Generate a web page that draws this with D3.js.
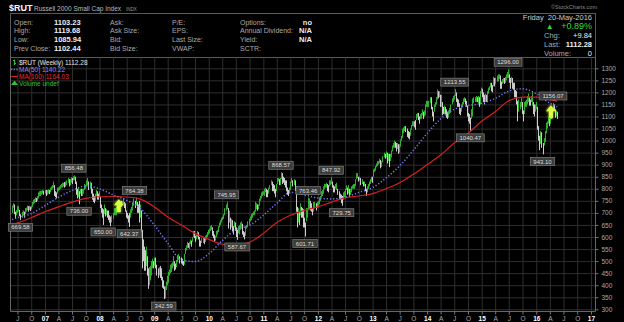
<!DOCTYPE html>
<html>
<head>
<meta charset="utf-8">
<script src="https://cdn.jsdelivr.net/npm/d3@7"></script>
<style>
  html, body { margin: 0; padding: 0; background: #000; }
  svg { display: block; }
  text { font-family: "Liberation Sans", Arial, sans-serif; }
</style>
</head>
<body>
<svg></svg>
<script>
let width = 624,
    height = 322;

// weekly [low, high] bars, one array per year (first Friday given in yearStarts)
const rut2006 = [[700,730],[722,740],[695,735],[675,705],[690,712],[700,728],[705,728],[686,712],[670,694],[680,705],[688,710],[680,705],[695,720],[705,722],[712,730],[705,728],[712,730],[708,726],[715,730],[725,745],[735,755],[740,758],[745,765],[745,762],[750,770],[760,785],[770,790],[770,792],[775,792],[780,795],[775,792],[780,795]];
const rut2007 = [[770,795],[775,795],[780,798],[778,795],[785,805],[795,810],[800,815],[805,830],[770,815],[765,790],[760,785],[780,805],[790,805],[795,810],[800,815],[805,820],[805,825],[810,825],[805,828],[808,830],[815,835],[825,845],[810,840],[815,840],[825,848],[820,845],[835,852],[835,856],[820,850],[775,830],[760,800],[765,805],[736,790],[780,800],[770,800],[770,800],[780,800],[795,820],[800,815],[810,835],[815,845],[795,830],[800,830],[780,825],[755,800],[745,780],[740,770],[750,780],[770,795],[755,790],[755,780],[765,790]];
const rut2008 = [[720,766],[700,735],[680,720],[650,715],[695,735],[685,720],[690,715],[680,710],[670,710],[660,690],[645,685],[660,690],[675,700],[690,720],[690,720],[690,725],[710,730],[710,740],[715,740],[730,750],[725,750],[730,750],[735,762],[720,745],[705,740],[680,710],[675,700],[660,690],[642,700],[680,715],[700,725],[710,740],[730,760],[720,750],[730,764],[700,745],[700,735],[660,750],[680,735],[620,710],[470,630],[500,590],[460,560],[460,545],[480,560],[440,520],[385,470],[400,475],[420,480],[440,500],[470,510],[470,500]];
const rut2009 = [[480,515],[470,515],[440,485],[430,470],[440,475],[430,480],[420,470],[390,435],[385,420],[343,395],[345,395],[380,415],[400,440],[410,455],[440,465],[450,485],[455,490],[470,495],[480,520],[460,500],[465,490],[475,505],[495,525],[505,530],[490,520],[490,515],[485,510],[480,500],[485,530],[530,555],[545,565],[555,580],[555,575],[550,580],[570,590],[560,585],[580,600],[600,625],[595,625],[580,605],[590,610],[600,625],[590,620],[560,600],[560,585],[575,595],[575,600],[570,595],[580,605],[590,610],[600,620],[610,630]];
const rut2010 = [[615,635],[625,645],[630,650],[605,640],[595,625],[580,610],[585,605],[600,625],[610,630],[620,645],[640,660],[650,670],[660,680],[670,685],[675,695],[690,720],[710,735],[715,746],[635,720],[660,710],[630,680],[640,675],[625,670],[610,645],[640,665],[625,660],[600,640],[588,630],[615,645],[610,650],[630,660],[640,665],[610,655],[600,625],[590,620],[605,645],[635,650],[645,665],[650,675],[665,685],[670,695],[680,700],[690,705],[690,710],[705,745],[715,740],[710,735],[715,735],[730,760],[750,770],[760,785],[770,790],[775,790]];
const rut2011 = [[770,800],[785,805],[765,800],[765,795],[780,805],[800,815],[815,835],[790,830],[790,820],[780,815],[765,800],[790,820],[820,845],[830,845],[815,840],[815,845],[840,869],[820,865],[825,850],[815,845],[805,835],[790,835],[775,805],[770,795],[780,805],[795,830],[825,845],[810,835],[815,840],[790,835],[705,800],[640,725],[660,720],[650,705],[690,740],[680,725],[680,720],[640,715],[640,680],[602,660],[665,720],[680,720],[710,763],[715,760],[710,750],[705,740],[690,720],[705,745],[720,745],[710,740],[720,745],[730,750]];
const rut2012 = [[735,765],[750,770],[765,790],[770,795],[780,810],[800,820],[805,820],[805,825],[790,820],[785,815],[810,835],[815,835],[820,848],[805,830],[785,815],[785,810],[800,820],[795,825],[775,800],[755,790],[755,780],[740,775],[730,770],[755,785],[765,790],[760,800],[795,815],[775,805],[780,815],[765,800],[775,800],[785,810],[800,815],[800,820],[800,820],[810,840],[840,865],[845,865],[830,850],[835,850],[815,845],[820,840],[810,830],[810,830],[790,820],[770,800],[785,810],[800,820],[810,830],[820,840],[830,850],[825,850]];
const rut2013 = [[850,880],[870,885],[875,895],[890,905],[895,915],[900,915],[905,925],[885,920],[890,915],[910,935],[930,950],[925,945],[930,955],[905,950],[915,945],[890,945],[915,945],[930,960],[955,980],[970,990],[970,1000],[970,995],[955,990],[965,990],[945,985],[950,985],[975,1005],[1000,1020],[1010,1050],[1030,1055],[1040,1060],[1035,1060],[1015,1050],[1010,1040],[1005,1035],[1020,1050],[1045,1065],[1060,1080],[1060,1080],[1055,1080],[1045,1085],[1085,1110],[1095,1115],[1085,1115],[1070,1100],[1090,1110],[1090,1115],[1105,1130],[1090,1120],[1100,1125],[1105,1150],[1140,1165]];
const rut2014 = [[1140,1165],[1140,1165],[1155,1180],[1130,1180],[1100,1140],[1080,1120],[1120,1150],[1140,1160],[1150,1180],[1170,1212],[1175,1205],[1180,1205],[1140,1190],[1140,1190],[1105,1160],[1110,1140],[1110,1145],[1110,1140],[1095,1130],[1090,1120],[1095,1125],[1110,1135],[1115,1150],[1150,1175],[1160,1185],[1170,1190],[1185,1214],[1160,1200],[1140,1175],[1140,1170],[1110,1155],[1105,1135],[1120,1150],[1140,1160],[1150,1175],[1160,1180],[1150,1175],[1140,1165],[1100,1145],[1080,1115],[1070,1110],[1040,1095],[1090,1130],[1100,1175],[1155,1180],[1160,1180],[1160,1185],[1160,1180],[1155,1185],[1140,1180],[1150,1205],[1195,1220]];
const rut2015 = [[1180,1215],[1160,1200],[1150,1190],[1160,1195],[1160,1190],[1165,1205],[1195,1220],[1210,1225],[1220,1240],[1205,1240],[1200,1230],[1225,1265],[1225,1260],[1235,1260],[1245,1270],[1245,1275],[1255,1275],[1215,1270],[1215,1245],[1235,1255],[1240,1260],[1235,1260],[1240,1265],[1250,1275],[1260,1285],[1260,1296],[1240,1275],[1215,1260],[1240,1265],[1215,1260],[1210,1240],[1180,1240],[1180,1210],[1150,1205],[1080,1165],[1120,1170],[1130,1160],[1140,1180],[1110,1160],[1080,1125],[1110,1160],[1140,1165],[1140,1170],[1150,1185],[1160,1195],[1145,1180],[1145,1170],[1160,1185],[1145,1200],[1110,1160],[1100,1150],[1120,1150]];
const rut2016 = [[1130,1160],[1045,1140],[1000,1060],[960,1020],[985,1040],[970,1035],[943,990],[980,1010],[995,1040],[1030,1075],[1050,1080],[1070,1100],[1060,1090],[1070,1120],[1090,1120],[1105,1130],[1125,1156],[1125,1150],[1095,1130],[1100,1125],[1090,1120]];

const yearStarts = ["2006-05-26","2007-01-05","2008-01-04","2009-01-02","2010-01-01","2011-01-07","2012-01-06","2013-01-04","2014-01-03","2015-01-02","2016-01-01"];
const yearBars = [rut2006, rut2007, rut2008, rut2009, rut2010, rut2011, rut2012, rut2013, rut2014, rut2015, rut2016];

// moving averages (quarterly samples)
const maDates = ["2006-05-26","2006-07-01","2006-10-01","2007-01-01","2007-04-01","2007-07-01","2007-10-01","2008-01-01","2008-04-01","2008-07-01","2008-10-01","2009-01-01","2009-04-01","2009-07-01","2009-10-01","2010-01-01","2010-04-01","2010-07-01","2010-10-01","2011-01-01","2011-04-01","2011-07-01","2011-10-01","2012-01-01","2012-04-01","2012-07-01","2012-10-01","2013-01-01","2013-04-01","2013-07-01","2013-10-01","2014-01-01","2014-04-01","2014-07-01","2014-10-01","2015-01-01","2015-04-01","2015-07-01","2015-10-01","2016-01-01","2016-04-01","2016-05-20"];
const ma50 = [672,680,697,730,765,793,812,800,775,752,718,650,575,505,498,530,585,630,648,690,740,785,775,762,758,765,785,805,845,895,960,1030,1090,1130,1145,1155,1175,1205,1215,1195,1155,1140];
const ma100 = [650,658,680,705,725,745,760,767,768,766,757,725,683,650,615,590,570,566,578,615,660,690,710,725,745,762,770,780,800,825,860,900,940,990,1030,1080,1120,1165,1180,1180,1170,1164];

// price labels on the chart
const labelTexts = ["669.58","856.48","736.00","650.00","642.37","764.38","342.59","745.95","587.67","868.57","601.71","763.46","847.92","729.75","1213.55","1040.47","1296.00","943.10","1156.07"];
const labelDates = ["2006-07-21","2007-07-13","2007-08-17","2008-01-25","2008-07-18","2008-08-22","2009-03-06","2010-04-30","2010-07-09","2011-04-29","2011-10-07","2011-10-28","2012-03-30","2012-06-08","2014-07-04","2014-10-17","2015-06-26","2016-02-12","2016-04-22"];
const labelSides = ["below","above","below","below","below","above","below","above","below","above","below","above","above","below","above","below","above","below","above"];

// highlight arrows drawn on the chart
const arrowDates = ["2008-05-09","2016-04-08"];
const arrowValues = [728,1118];

const yTicks = d3.range(300, 1301, 50);
const monthLetters = {0: null, 3: "A", 6: "J", 9: "O"};

const quoteLeft = [
    ["Open:", "1103.23", "Ask:", "P/E:", "Options:", "no"],
    ["High:", "1119.68", "Ask Size:", "EPS:", "Annual Dividend:", "N/A"],
    ["Low:", "1085.94", "Bid:", "Last Size:", "Yield:", "N/A"],
    ["Prev Close:", "1102.44", "Bid Size:", "VWAP:", "SCTR:", ""]
];

let parse = d3.timeParse("%Y-%m-%d");
let svg = d3.select("svg").attr("width", width).attr("height", height);

const plot = { left: 10, right: 595, top: 57.5, bottom: 311 };

let x = d3.scaleTime()
    .domain([parse("2006-05-12"), parse("2017-01-28")])
    .range([plot.left, plot.right]);
let y = d3.scaleLinear().domain([300, 1300]).range([309.3, 68.3]);

// ---- header box
svg.append("rect")
    .attr("x", 10.5).attr("y", 13.5)
    .attr("width", 585).attr("height", 44)
    .attr("fill", "none").attr("stroke", "#5a5a5a");

svg.append("text").attr("x", 9).attr("y", 11)
    .attr("fill", "#fff").attr("font-size", "9px").attr("font-weight", "bold")
    .text("$RUT");
svg.append("text").attr("x", 34).attr("y", 11)
    .attr("fill", "#bbb").attr("font-size", "6.5px")
    .text("Russell 2000 Small Cap Index");
svg.append("text").attr("x", 126).attr("y", 11)
    .attr("fill", "#999").attr("font-size", "4.5px")
    .text("INDX");
svg.append("text").attr("x", 597).attr("y", 9)
    .attr("text-anchor", "end").attr("fill", "#888").attr("font-size", "5.5px")
    .text("\u00a9StockCharts.com");

const colX = [14, 54, 110, 172, 240, 312];
quoteLeft.forEach((row, i) => {
    let yy = 24.5 + i * 8.8;
    row.forEach((t, j) => {
        let isVal = j == 1 || j == 5;
        svg.append("text")
            .attr("x", colX[j]).attr("y", yy)
            .attr("text-anchor", j == 5 ? "end" : "start")
            .attr("fill", isVal ? "#eee" : "#aaa")
            .attr("font-weight", isVal ? "bold" : "normal")
            .attr("font-size", isVal ? "7.5px" : "7px")
            .text(t);
    });
});

const rightRows = [
    ["Friday", "20-May-2016"],
    ["\u25B2", "+0.89%"],
    ["Chg:", "+9.84"],
    ["Last:", "1112.28"],
    ["Volume:", "0"]
];
rightRows.forEach((r, i) => {
    let yy = 19.5 + i * 9;
    if (i == 0) {
        svg.append("text").attr("x", 592).attr("y", yy)
            .attr("text-anchor", "end").attr("fill", "#ccc").attr("font-size", "7.5px")
            .attr("xml:space", "preserve")
            .text(r[0] + "  " + r[1]);
        return;
    }
    svg.append("text").attr("x", i == 1 ? 546 : 544).attr("y", yy)
        .attr("fill", i == 1 ? "#33dd33" : "#aaa")
        .attr("font-size", "7.5px")
        .text(r[0]);
    svg.append("text").attr("x", 592).attr("y", yy)
        .attr("text-anchor", "end")
        .attr("fill", i == 1 ? "#33dd33" : "#eee")
        .attr("font-weight", i == 3 ? "bold" : "normal")
        .attr("font-size", i == 1 ? "9px" : "7.5px")
        .text(r[1]);
});

// ---- grid
svg.append("g")
    .attr("transform", `translate(0,${plot.bottom})`)
    .call(d3.axisBottom(x).ticks(d3.timeMonth.every(3)).tickSize(-(plot.bottom - plot.top)).tickFormat(""))
    .call(g => g.select(".domain").remove())
    .call(g => g.selectAll("line").attr("stroke", "#2e2e2e"));

svg.append("g")
    .attr("transform", `translate(${plot.left},0)`)
    .call(d3.axisLeft(y).tickValues(yTicks).tickSize(-(plot.right - plot.left)).tickFormat(""))
    .call(g => g.select(".domain").remove())
    .call(g => g.selectAll("line").attr("stroke", "#2e2e2e"));

// plot frame
svg.append("path")
    .attr("d", `M${plot.left + 0.5},${plot.top}V${plot.bottom + 0.5}H${plot.right + 0.5}V${plot.top}`)
    .attr("fill", "none").attr("stroke", "#666");

// ---- axes
svg.append("g")
    .attr("transform", `translate(0,${plot.bottom + 0.5})`)
    .call(d3.axisBottom(x).ticks(d3.timeMonth.every(3)).tickSize(3).tickPadding(2)
        .tickFormat(d => d.getMonth() == 0 ? d3.timeFormat("%y")(d) : monthLetters[d.getMonth()]))
    .call(g => g.select(".domain").remove())
    .call(g => g.selectAll("line").attr("stroke", "#777"))
    .call(g => g.selectAll("text")
        .attr("font-family", "Liberation Sans, Arial, sans-serif")
        .attr("font-size", "6.5px")
        .attr("fill", d => d.getMonth() == 0 ? "#fff" : "#aaa")
        .attr("font-weight", d => d.getMonth() == 0 ? "bold" : "normal"));

svg.append("g")
    .attr("transform", `translate(${plot.right + 0.5},0)`)
    .call(d3.axisRight(y).tickValues(yTicks).tickSize(3).tickPadding(3).tickFormat(d3.format("d")))
    .call(g => g.select(".domain").remove())
    .call(g => g.selectAll("line").attr("stroke", "#777"))
    .call(g => g.selectAll("text")
        .attr("font-family", "Liberation Sans, Arial, sans-serif")
        .attr("font-size", "6.5px")
        .attr("fill", "#aaa"));

// ---- bars
let bars = [];
yearBars.forEach((arr, k) => {
    let d0 = parse(yearStarts[k]);
    arr.forEach((p, i) => {
        bars.push({ date: d3.timeDay.offset(d0, 7 * i), lo: p[0], hi: p[1] });
    });
});
bars.forEach((b, i) => {
    let prev = i > 0 ? bars[i - 1] : b;
    b.up = (b.lo + b.hi) >= (prev.lo + prev.hi);
});

svg.append("g")
    .selectAll("line")
    .data(bars)
    .enter()
    .append("line")
    .attr("x1", d => Math.round(x(d.date)) + 0.5)
    .attr("x2", d => Math.round(x(d.date)) + 0.5)
    .attr("y1", d => y(d.hi))
    .attr("y2", d => y(d.lo))
    .attr("stroke", d => d.up ? "#2fc42f" : "#e2e2e2")
    .attr("stroke-width", 0.9);

// ---- moving averages
let maPts50 = maDates.map((d, i) => [parse(d), ma50[i]]);
let maPts100 = maDates.map((d, i) => [parse(d), ma100[i]]);
let line = d3.line().x(d => x(d[0])).y(d => y(d[1])).curve(d3.curveMonotoneX);

svg.append("path")
    .attr("d", line(maPts100))
    .attr("fill", "none").attr("stroke", "#d42020").attr("stroke-width", 1.2);
svg.append("path")
    .attr("d", line(maPts50))
    .attr("fill", "none").attr("stroke", "#7a7aff").attr("stroke-width", 1.5)
    .attr("stroke-dasharray", "1.2,2");

// ---- highlight arrows
const defs = svg.append("defs");
const glow = defs.append("filter").attr("id", "glow")
    .attr("x", "-100%").attr("y", "-100%").attr("width", "300%").attr("height", "300%");
glow.append("feGaussianBlur").attr("stdDeviation", 1.4).attr("result", "b");
const merge = glow.append("feMerge");
merge.append("feMergeNode").attr("in", "b");
merge.append("feMergeNode").attr("in", "SourceGraphic");

svg.append("g")
    .selectAll("path")
    .data(arrowDates)
    .enter()
    .append("path")
    .attr("transform", (d, i) => `translate(${x(parse(d))},${y(arrowValues[i])})`)
    .attr("d", "M0,-7L5,-1L2,-1L2,6L-2,6L-2,-1L-5,-1Z")
    .attr("fill", "#dcff40")
    .attr("filter", "url(#glow)");

// ---- price labels
labelTexts.forEach((t, i) => {
    let cx = x(parse(labelDates[i]));
    let vy = y(parseFloat(t));
    let w = t.length * 3.4 + 4, h = 8;
    let cy = labelSides[i] == "above" ? vy - 7 : vy + 7;
    svg.append("rect")
        .attr("x", cx - w / 2).attr("y", cy - h / 2)
        .attr("width", w).attr("height", h)
        .attr("fill", "#3c3c3c").attr("stroke", "#8a8a8a").attr("stroke-width", 0.6);
    svg.append("text")
        .attr("x", cx).attr("y", cy + 2.2)
        .attr("text-anchor", "middle")
        .attr("fill", "#ddd").attr("font-size", "6px")
        .text(t);
});

// ---- legend
const legend = svg.append("g").attr("font-family", "DejaVu Sans, sans-serif").attr("font-size", "6.5px");
legend.append("path").attr("d", "M14.5,59.5V65M13,60.5H14.5M14.5,63.5H16")
    .attr("stroke", "#2fc42f").attr("fill", "none");
legend.append("text").attr("x", 19).attr("y", 64.5).attr("fill", "#e6e6e6").text("$RUT (Weekly) 1112.28");
legend.append("line").attr("x1", 11).attr("x2", 18).attr("y1", 69.5).attr("y2", 69.5)
    .attr("stroke", "#7a7aff").attr("stroke-width", 1.5).attr("stroke-dasharray", "1.2,1.5");
legend.append("text").attr("x", 19).attr("y", 72).attr("fill", "#8a8aff").text("MA(50) 1140.22");
legend.append("line").attr("x1", 11).attr("x2", 18).attr("y1", 76.5).attr("y2", 76.5)
    .attr("stroke", "#d42020").attr("stroke-width", 1.2);
legend.append("text").attr("x", 19).attr("y", 79).attr("fill", "#e03030").text("MA(100) 1164.03");
legend.append("path").attr("d", "M11,85L14.5,80.5L18,85Z").attr("fill", "#2fc42f");
legend.append("text").attr("x", 19).attr("y", 86).attr("fill", "#2fc42f").text("Volume undef");
</script>
</body>
</html>
